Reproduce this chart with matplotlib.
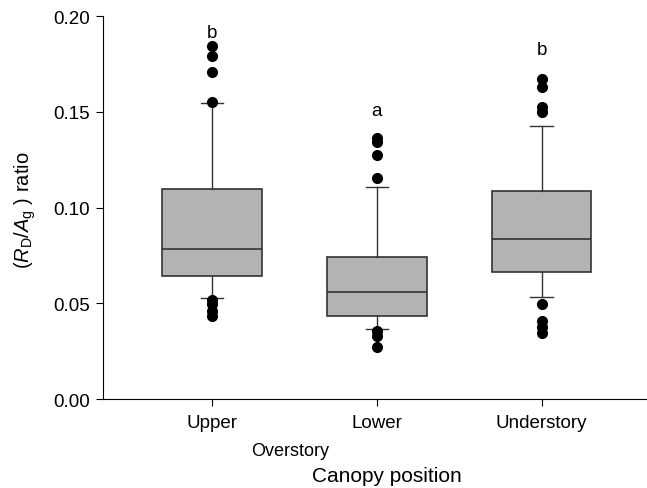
import matplotlib.pyplot as plt

plt.rcParams['font.family'] = ['Liberation Sans', 'DejaVu Sans']
plt.rcParams['mathtext.fontset'] = 'custom'
plt.rcParams['mathtext.rm'] = 'Liberation Sans'
plt.rcParams['mathtext.it'] = 'Liberation Sans:italic'

# Data
positions = ['Upper', 'Lower', 'Understory']
q1 = [0.0641, 0.0432, 0.0661]
med = [0.0783, 0.0560, 0.0836]
q3 = [0.1095, 0.0743, 0.1088]
whislo = [0.0529, 0.0364, 0.0534]
whishi = [0.1546, 0.1109, 0.1424]
fliers = [
    [0.1842, 0.1793, 0.1709, 0.1549, 0.0515, 0.0498, 0.0460, 0.0435],
    [0.1361, 0.1340, 0.1274, 0.1152, 0.0357, 0.0331, 0.0270],
    [0.1671, 0.1628, 0.1523, 0.1497, 0.0494, 0.0409, 0.0374, 0.0345],
]
letters = ['b', 'a', 'b']

stats = []
for i, name in enumerate(positions):
    stats.append(dict(label=name, q1=q1[i], med=med[i], q3=q3[i],
                      whislo=whislo[i], whishi=whishi[i], fliers=fliers[i]))

fig = plt.figure(figsize=(6.47, 4.89), dpi=100)
ax = fig.add_axes([0.159, 0.182, 0.841, 0.783])

ax.bxp(stats, positions=[1, 2, 3], widths=0.606, capwidths=0.135,
       patch_artist=True, showfliers=True,
       boxprops=dict(facecolor='#b3b3b3', edgecolor='#333333', linewidth=1.2),
       medianprops=dict(color='#333333', linewidth=1.2),
       whiskerprops=dict(color='#333333', linewidth=1.0),
       capprops=dict(color='#333333', linewidth=1.0),
       flierprops=dict(marker='o', markerfacecolor='black', markeredgecolor='black',
                       markersize=7, linestyle='none'))

# significance letters
letter_y = [0.1912, 0.1507, 0.1827]
for x, (t, y) in enumerate(zip(letters, letter_y), start=1):
    ax.text(x, y, t, ha='center', va='center', fontsize=13.5)

ax.set_xlim(0.339, 3.64)
ax.set_ylim(0, 0.20)
ax.set_yticks([0, 0.05, 0.10, 0.15, 0.20])
ax.set_yticklabels(['0.00', '0.05', '0.10', '0.15', '0.20'])
ax.set_xticks([1, 2, 3])
ax.set_xticklabels(positions)
ax.tick_params(axis='both', labelsize=13.5, direction='out', length=5, width=0.8)
ax.tick_params(axis='x', pad=6)
ax.tick_params(axis='y', pad=4)

for side in ['top', 'right']:
    ax.spines[side].set_visible(False)

fig.text(25 / 647, 1 - 210 / 489, r'$(R_\mathrm{D}/A_\mathrm{g}$ ) ratio',
         rotation=90, ha='center', va='center', fontsize=14.5)
fig.text(290 / 647, 1 - 452 / 489, 'Overstory', ha='center', va='center', fontsize=13)
fig.text(387 / 647, 1 - 477 / 489, 'Canopy position', ha='center', va='center', fontsize=15)

fig.savefig('out.png', dpi=100)
